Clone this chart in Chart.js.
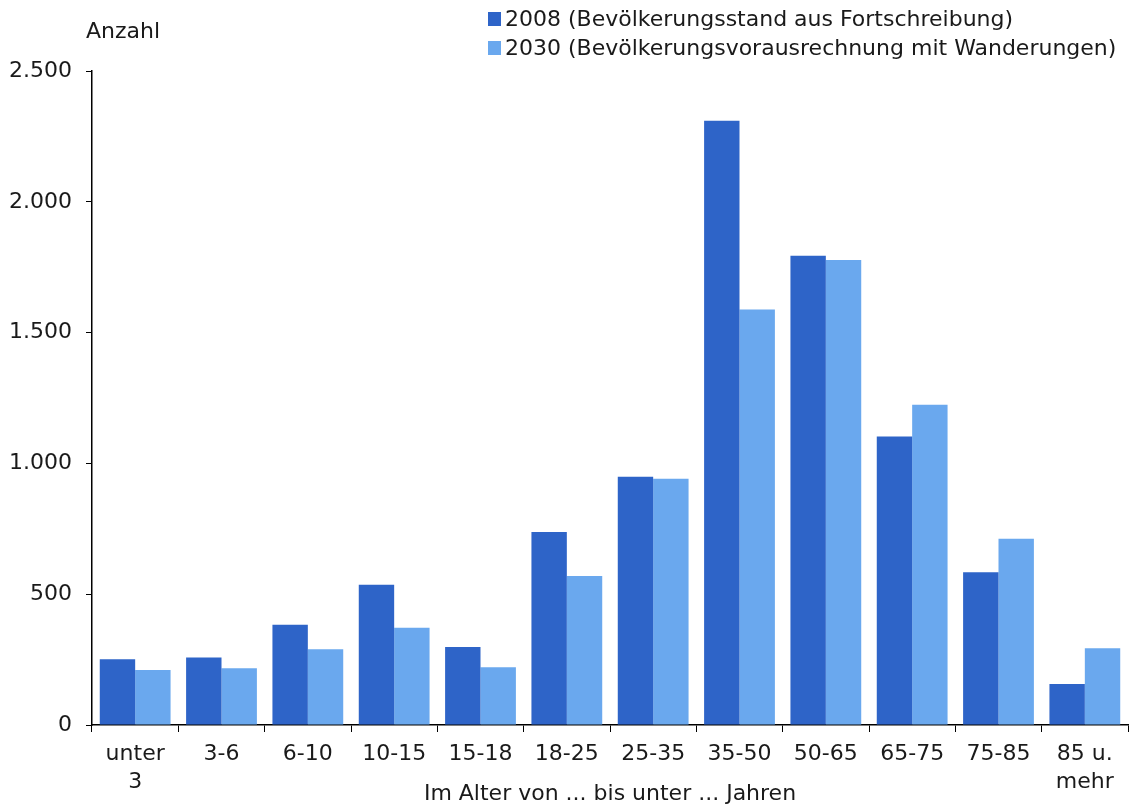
<!DOCTYPE html>
<html>
<head>
<meta charset="utf-8">
<title>Bevölkerung nach Altersgruppen</title>
<script src="https://cdn.jsdelivr.net/npm/chart.js@4"></script>
<style>
  html, body { margin: 0; padding: 0; background: #fff; }
  #wrap { width: 1148px; height: 811px; }
</style>
</head>
<body>
<div id="wrap"><canvas id="myChart" width="1148" height="811"></canvas></div>
<script>
// Altersgruppen (x-Achse)
const ageGroups = [['unter', '3'], '3-6', '6-10', '10-15', '15-18', '18-25', '25-35', '35-50', '50-65', '65-75', '75-85', ['85 u.', 'mehr']];

// Werte
const values2008 = [251, 258, 383, 536, 298, 738, 949, 2310, 1794, 1103, 584, 157];
const values2030 = [210, 217, 290, 372, 221, 570, 941, 1588, 1778, 1224, 712, 293];

const seriesLabels = ['2008 (Bevölkerungsstand aus Fortschreibung)', '2030 (Bevölkerungsvorausrechnung mit Wanderungen)'];
const yTicks = [0, 500, 1000, 1500, 2000, 2500];
const yTickLabels = ['0', '500', '1.000', '1.500', '2.000', '2.500'];
const yTitle = 'Anzahl';
const xTitle = 'Im Alter von ... bis unter ... Jahren';

const colDark = '#2e64c8';
const colLight = '#6aa8ee';
const txtColor = '#1a1a1a';
const fontFam = '"DejaVu Sans", Verdana, sans-serif';

// Legende und "Anzahl" selbst zeichnen (zwei Zeilen, links bündig)
const extraText = {
    id: 'extraText',
    afterDraw(chart) {
        const ctx = chart.ctx;
        ctx.save();
        ctx.font = '22px ' + fontFam;
        ctx.fillStyle = txtColor;
        ctx.textBaseline = 'alphabetic';
        ctx.textAlign = 'left';
        ctx.fillText(yTitle, 86, 38);

        const cols = [colDark, colLight];
        for (let i = 0; i < seriesLabels.length; i++) {
            const base = 26 + i * 29;
            ctx.fillStyle = cols[i];
            ctx.fillRect(488, base - 14, 13, 14);
            ctx.fillStyle = txtColor;
            ctx.fillText(seriesLabels[i], 505, base);
        }
        ctx.restore();
    }
};

const ctx = document.getElementById('myChart').getContext('2d');
new Chart(ctx, {
    type: 'bar',
    data: {
        labels: ageGroups,
        datasets: [{
            label: seriesLabels[0],
            data: values2008,
            backgroundColor: colDark,
            categoryPercentage: 0.82,
            barPercentage: 1.0
        }, {
            label: seriesLabels[1],
            data: values2030,
            backgroundColor: colLight,
            categoryPercentage: 0.82,
            barPercentage: 1.0
        }]
    },
    options: {
        responsive: false,
        animation: false,
        layout: {
            padding: { top: 71, right: 20, left: 0, bottom: 0 }
        },
        plugins: {
            legend: { display: false },
            tooltip: { enabled: false }
        },
        scales: {
            x: {
                grid: {
                    drawOnChartArea: false,
                    drawTicks: true,
                    tickLength: 7,
                    color: '#000'
                },
                border: { color: '#000', width: 1.5 },
                ticks: {
                    color: txtColor,
                    padding: 9,
                    maxRotation: 0,
                    autoSkip: false,
                    font: { family: fontFam, size: 22, lineHeight: 1.25 }
                },
                title: {
                    display: true,
                    text: xTitle,
                    color: txtColor,
                    padding: { top: 0, bottom: 4 },
                    font: { family: fontFam, size: 22 }
                },
                afterFit(scale) { scale.height = 86; }
            },
            y: {
                min: 0,
                max: 2500,
                afterBuildTicks(scale) {
                    scale.ticks = yTicks.map(v => ({ value: v }));
                },
                grid: {
                    drawOnChartArea: false,
                    drawTicks: true,
                    tickLength: 6,
                    color: '#000'
                },
                border: { color: '#000', width: 1.5 },
                ticks: {
                    color: txtColor,
                    padding: 14,
                    font: { family: fontFam, size: 22 },
                    callback: (v) => yTickLabels[yTicks.indexOf(v)]
                },
                afterFit(scale) { scale.width = 92; }
            }
        }
    },
    plugins: [extraText]
});
</script>
</body>
</html>
